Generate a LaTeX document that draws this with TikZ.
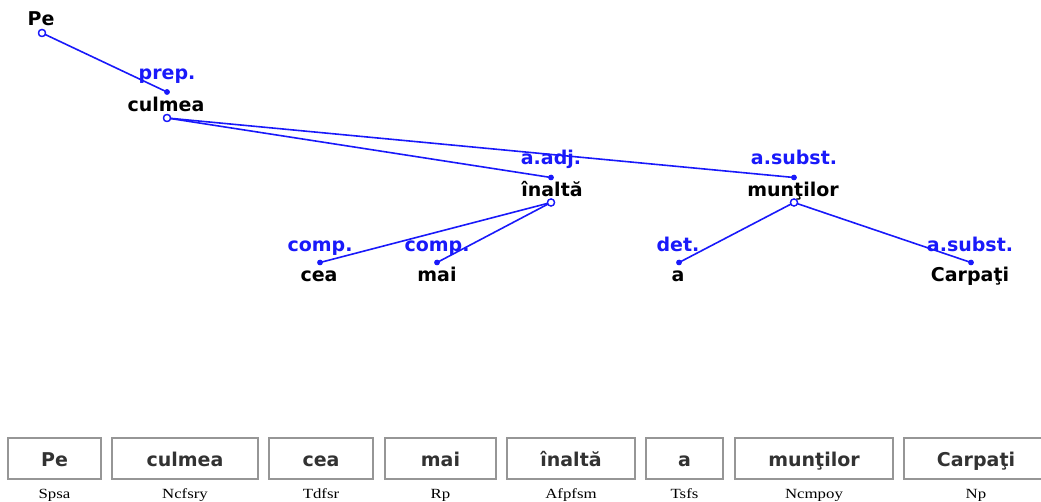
\documentclass[tikz,border=0pt]{standalone}
\usepackage{fontspec}
\newfontfamily\treefont{DejaVu Sans}
\newfontfamily\tagfont{Liberation Serif}
\definecolor{linkblue}{RGB}{25,25,250}
\definecolor{boxgray}{RGB}{150,150,150}
\definecolor{boxtext}{RGB}{50,50,50}
\tikzset{
  word/.style={anchor=base,inner sep=0pt,font=\treefont\bfseries\fontsize{19}{21}\selectfont},
  rel/.style={word,text=linkblue},
  link/.style={draw=linkblue,line width=1.6pt},
  headpt/.style={circle,draw=linkblue,line width=1.3pt,inner sep=0pt,minimum size=7pt,fill=white},
  deppt/.style={circle,fill=linkblue,inner sep=0pt,minimum size=5.5pt},
  tokbox/.style={draw=boxgray,line width=1.3pt,inner sep=0pt,minimum height=41pt},
  tokword/.style={word,text=boxtext},
  tag/.style={anchor=base,inner sep=0pt,font=\tagfont\fontsize{14}{16}\selectfont}
}
\begin{document}
\begin{tikzpicture}[x=1pt,y=-1pt]
\useasboundingbox (0,0) rectangle (1041,502);
\clip (0,0) rectangle (1041,502);

% ---- dependency tree: relation label, attachment dot, word, head ring ----
\node[word] (wPe) at (41,26) {Pe};
\node[headpt] (cPe) at (42,33) {};

\node[rel] (rCul) at (167,80) {prep.};
\node[deppt] (dCul) at (167,92) {};
\node[word] (wCul) at (166,111.5) {culmea};
\node[headpt] (cCul) at (167,118) {};

\node[rel] (rIna) at (551,165) {a.adj.};
\node[deppt] (dIna) at (551,177.5) {};
\node[word] (wIna) at (552,196.5) {înaltă};
\node[headpt] (cIna) at (551,202.5) {};

\node[rel] (rMun) at (794,165) {a.subst.};
\node[deppt] (dMun) at (794,177.5) {};
\node[word] (wMun) at (793,196.5) {munţilor};
\node[headpt] (cMun) at (794,202.5) {};

\node[rel] (rCea) at (320,251.5) {comp.};
\node[deppt] (dCea) at (320,262.5) {};
\node[word] (wCea) at (319,281.5) {cea};

\node[rel] (rMai) at (437,251.5) {comp.};
\node[deppt] (dMai) at (437,262.5) {};
\node[word] (wMai) at (437,281.5) {mai};

\node[rel] (rA) at (678,251.5) {det.};
\node[deppt] (dA) at (679,262.5) {};
\node[word] (wA) at (678,281.5) {a};

\node[rel] (rCar) at (970,251.5) {a.subst.};
\node[deppt] (dCar) at (971,262.5) {};
\node[word] (wCar) at (970,281.5) {Carpaţi};

% ---- links from head ring to dependent dot ----
\draw[link] (cPe.center) -- (dCul.center);
\draw[link] (cCul.center) -- (dIna.center);
\draw[link] (cCul.center) -- (dMun.center);
\draw[link] (cIna.center) -- (dCea.center);
\draw[link] (cIna.center) -- (dMai.center);
\draw[link] (cMun.center) -- (dA.center);
\draw[link] (cMun.center) -- (dCar.center);
% redraw rings and dots on top of the links
\foreach \r in {cPe,cCul,cIna,cMun}
  \node[headpt] at (\r) {};
\foreach \d in {dCul,dIna,dMun,dCea,dMai,dA,dCar}
  \node[deppt] at (\d) {};

% ---- token row with morphosyntactic tags ----
\foreach \nm/\xa/\xb/\txt/\tg in {
    Pe/8/101/Pe/Spsa,
    Cul/112/258/culmea/Ncfsry,
    Cea/269/373/cea/Tdfsr,
    Mai/385/496/mai/Rp,
    Ina/507/635/înaltă/Afpfsm,
    A/646/723/a/Tsfs,
    Mun/735/893/munţilor/Ncmpoy,
    Car/904/1048/Carpaţi/Np}{
  \node[tokbox,minimum width={\xb-\xa}] (box\nm) at ({(\xa+\xb)/2},458.5) {};
  \node[tokword] (tok\nm) at ({(\xa+\xb)/2},466) {\txt};
  \node[tag] (tag\nm) at ({(\xa+\xb)/2},498) {\scalebox{1.2}[1]{\tg}};
}
\end{tikzpicture}
\end{document}
